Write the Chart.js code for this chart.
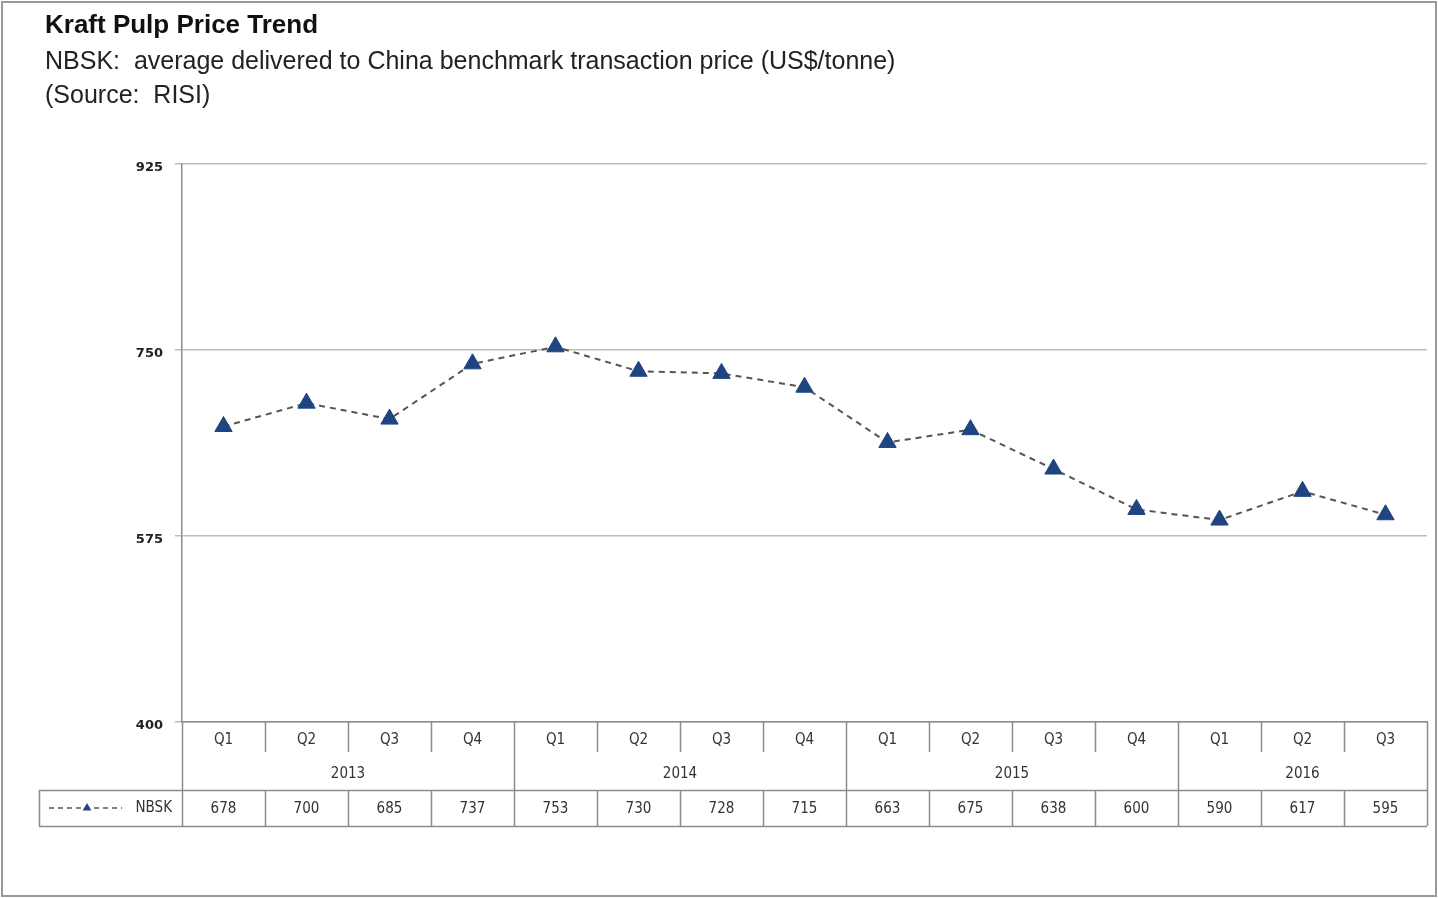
<!DOCTYPE html>
<html>
<head>
<meta charset="utf-8">
<script src="https://cdn.jsdelivr.net/npm/chart.js@4.4.1/dist/chart.umd.min.js"></script>
<style>
  html, body { margin: 0; padding: 0; background: #fff; }
</style>
</head>
<body>
<canvas id="chart" width="1438" height="898"></canvas>
<script>
const quarters = ['Q1', 'Q2', 'Q3', 'Q4', 'Q1', 'Q2', 'Q3', 'Q4', 'Q1', 'Q2', 'Q3', 'Q4', 'Q1', 'Q2', 'Q3'];
const years = ['2013', '2014', '2015', '2016'];
const yearSpans = [4, 4, 4, 3];
const nbsk = [678, 700, 685, 737, 753, 730, 728, 715, 663, 675, 638, 600, 590, 617, 595];
const yTicks = [400, 575, 750, 925];
const seriesName = 'NBSK';
const titleText = 'Kraft Pulp Price Trend';
const subtitleLines = [
    'NBSK:  average delivered to China benchmark transaction price (US$/tonne)',
    '(Source:  RISI)'
];

const markerColor = '#1f4580';
const lineColor = '#555';
const frameColor = '#8c8c8c';
const tableFont = '15px "DejaVu Sans Condensed", "DejaVu Sans", sans-serif';

function drawTriangle(ctx, x, y, r) {
    ctx.beginPath();
    ctx.moveTo(x, y - r);
    ctx.lineTo(x + r * 0.87, y + r * 0.5);
    ctx.lineTo(x - r * 0.87, y + r * 0.5);
    ctx.closePath();
    ctx.fill();
}

// white page, outer frame and headings
const pagePlugin = {
    id: 'page',
    beforeDraw(chart) {
        const ctx = chart.ctx;
        ctx.save();
        ctx.fillStyle = '#fff';
        ctx.fillRect(0, 0, chart.width, chart.height);
        ctx.strokeStyle = '#999';
        ctx.lineWidth = 2;
        ctx.strokeRect(2, 2, chart.width - 4, chart.height - 4);

        ctx.fillStyle = '#111';
        ctx.textAlign = 'left';
        ctx.textBaseline = 'alphabetic';
        ctx.font = 'bold 26px "Liberation Sans", Arial, sans-serif';
        ctx.fillText(titleText, 45, 33);
        ctx.fillStyle = '#222';
        ctx.font = '25px "Liberation Sans", Arial, sans-serif';
        ctx.fillText(subtitleLines[0], 45, 69);
        ctx.fillText(subtitleLines[1], 45, 103);
        ctx.restore();
    }
};

// data table under the plot
const tablePlugin = {
    id: 'dataTable',
    afterDraw(chart) {
        const ctx = chart.ctx;
        const xs = chart.scales.x;
        const area = chart.chartArea;
        const colW = xs.getPixelForValue(1) - xs.getPixelForValue(0);
        const edge = i => xs.getPixelForValue(i) - colW / 2;
        const top = area.bottom;
        const yrBottom = top + 68;
        const rowBottom = top + 104;
        const tableLeft = 39;

        ctx.save();
        ctx.strokeStyle = frameColor;
        ctx.lineWidth = 1.5;

        // year boundaries and short quarter separators
        let yearEdges = [0];
        yearSpans.forEach(s => yearEdges.push(yearEdges[yearEdges.length - 1] + s));
        for (let i = 0; i <= quarters.length; i++) {
            const px = Math.round(edge(i)) + 0.5;
            ctx.beginPath();
            if (yearEdges.includes(i)) {
                ctx.moveTo(px, top);
                ctx.lineTo(px, rowBottom);
            } else {
                ctx.moveTo(px, top);
                ctx.lineTo(px, top + 30);
                ctx.moveTo(px, yrBottom);
                ctx.lineTo(px, rowBottom);
            }
            ctx.stroke();
        }

        // value row box
        ctx.beginPath();
        ctx.moveTo(tableLeft, yrBottom + 0.5);
        ctx.lineTo(edge(quarters.length), yrBottom + 0.5);
        ctx.moveTo(tableLeft, rowBottom + 0.5);
        ctx.lineTo(edge(quarters.length), rowBottom + 0.5);
        ctx.moveTo(tableLeft + 0.5, yrBottom);
        ctx.lineTo(tableLeft + 0.5, rowBottom);
        ctx.stroke();

        ctx.fillStyle = '#333';
        ctx.font = tableFont;
        ctx.textAlign = 'center';
        ctx.textBaseline = 'middle';
        quarters.forEach((q, i) => {
            ctx.fillText(q, xs.getPixelForValue(i), top + 18);
            ctx.fillText(String(nbsk[i]), xs.getPixelForValue(i), yrBottom + 19);
        });
        years.forEach((y, k) => {
            const a = edge(yearEdges[k]);
            const b = edge(yearEdges[k + 1]);
            ctx.fillText(y, (a + b) / 2, top + 52);
        });

        // legend key in the row header
        const ly = yrBottom + 18;
        ctx.strokeStyle = lineColor;
        ctx.lineWidth = 1.5;
        ctx.setLineDash([5, 4]);
        ctx.beginPath();
        ctx.moveTo(49, ly);
        ctx.lineTo(122, ly);
        ctx.stroke();
        ctx.setLineDash([]);
        ctx.fillStyle = markerColor;
        drawTriangle(ctx, 87, ly, 5);
        ctx.fillStyle = '#333';
        ctx.textAlign = 'right';
        ctx.fillText(seriesName, 172, ly);
        ctx.restore();
    }
};

new Chart(document.getElementById('chart'), {
    type: 'line',
    data: {
        labels: quarters,
        datasets: [{
            label: seriesName,
            data: nbsk,
            borderColor: lineColor,
            borderWidth: 2,
            borderDash: [6, 5],
            tension: 0,
            pointStyle: 'triangle',
            pointRadius: 10,
            pointBackgroundColor: markerColor,
            pointBorderColor: markerColor,
            pointBorderWidth: 1
        }]
    },
    options: {
        responsive: false,
        animation: false,
        layout: { padding: { top: 164, right: 10, bottom: 0, left: 0 } },
        plugins: {
            legend: { display: false },
            title: { display: false },
            tooltip: { enabled: false }
        },
        scales: {
            x: {
                offset: true,
                ticks: { display: false },
                grid: { display: false },
                border: { display: true, color: frameColor, width: 1.5 },
                afterFit(scale) { scale.height = 176; }
            },
            y: {
                min: 400,
                max: 925,
                afterBuildTicks(scale) { scale.ticks = yTicks.map(v => ({ value: v })); },
                afterFit(scale) { scale.width = 182; },
                ticks: {
                    color: '#222',
                    padding: 12,
                    labelOffset: 4,
                    font: { family: '"DejaVu Sans", sans-serif', size: 13, weight: 'bold' }
                },
                grid: { color: '#bdbdbd', lineWidth: 1.5, tickLength: 7 },
                border: { display: true, color: frameColor, width: 1.5 }
            }
        }
    },
    plugins: [pagePlugin, tablePlugin]
});
</script>
</body>
</html>
